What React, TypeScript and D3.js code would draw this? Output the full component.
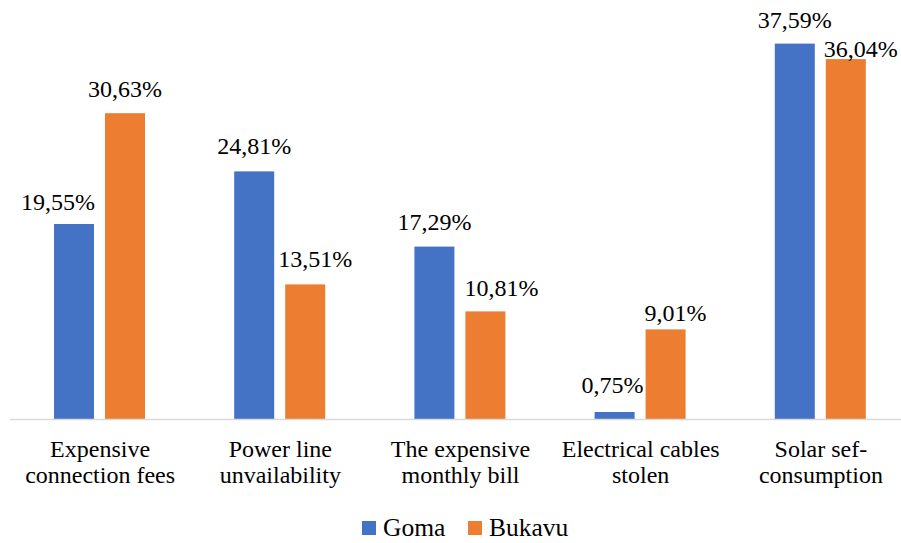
import React from "react";
import * as d3 from "d3";

const categories: string[][] = [
  ["Expensive", "connection fees"],
  ["Power line", "unvailability"],
  ["The expensive", "monthly bill"],
  ["Electrical cables", "stolen"],
  ["Solar sef-", "consumption"],
];
const seriesNames = ["Goma", "Bukavu"];
const gomaValues = [19.55, 24.81, 17.29, 0.75, 37.59];
const bukavuValues = [30.63, 13.51, 10.81, 9.01, 36.04];
const seriesColors = ["#4472C4", "#ED7D31"];

// label placement tweaks (layout, not data)
const labelDx = [
  [-16, 0, 0, -2, 0],
  [0, 10, 16, 10, 15],
];
const labelGap = [
  [14, 17, 17, 19, 16],
  [16, 17, 15, 8, 2],
];

const W = 901;
const H = 543;
const FONT =
  "'Liberation Serif', 'LiberationSerif', 'Times New Roman', Times, 'Nimbus Roman', 'Nimbus Roman No9 L', 'FreeSerif', 'Noto Serif', 'DejaVu Serif', Georgia, serif";

const fmt = (v: number) => v.toFixed(2).replace(".", ",") + "%";

export default function App() {
  const keys = categories.map((c) => c.join(" "));
  const x0 = d3.scaleBand<string>().domain(keys).range([10, 911]).padding(0);
  const x1 = d3
    .scaleBand<string>()
    .domain(seriesNames)
    .range([44, 135])
    .paddingInner(11 / 51)
    .paddingOuter(0);
  const y = d3.scaleLinear().domain([0, 40]).range([419.5, 19.5]);
  const data = [gomaValues, bukavuValues];
  const textStyle = { fontFamily: FONT };

  return (
    <div style={{ position: "absolute", left: 0, top: 0 }}>
      <svg width={W} height={H} style={{ display: "block", background: "#fff", fontFamily: FONT }}>
        <rect x={0} y={0} width={W} height={H} fill="#fff" />
        {data.map((vals, si) =>
          vals.map((v, ci) => {
            const bx = x0(keys[ci])! + x1(seriesNames[si])!;
            const by = y(v);
            return (
              <rect
                key={`b${si}-${ci}`}
                x={bx}
                y={by}
                width={x1.bandwidth()}
                height={y(0) - by}
                fill={seriesColors[si]}
              />
            );
          })
        )}
        <line x1={10} x2={W} y1={y(0)} y2={y(0)} stroke="#D9D9D9" strokeWidth={1.5} />
        {data.map((vals, si) =>
          vals.map((v, ci) => {
            const bx = x0(keys[ci])! + x1(seriesNames[si])! + x1.bandwidth() / 2;
            return (
              <text
                key={`l${si}-${ci}`}
                x={bx + labelDx[si][ci]}
                y={y(v) - labelGap[si][ci]}
                textAnchor="middle"
                style={textStyle}
                fontSize={24}
                fill="#000"
              >
                {fmt(v)}
              </text>
            );
          })
        )}
        {categories.map((lines, ci) => (
          <text
            key={`c${ci}`}
            x={x0(keys[ci])! + x0.bandwidth() / 2}
            y={457}
            textAnchor="middle"
            style={textStyle}
            fontSize={24}
            fill="#000"
          >
            {lines.map((t, li) => (
              <tspan key={li} x={x0(keys[ci])! + x0.bandwidth() / 2} y={457 + li * 25.5}>
                {t}
              </tspan>
            ))}
          </text>
        ))}
        {seriesNames.map((s, si) => {
          const lx = [362, 468][si];
          return (
            <g key={`lg${si}`}>
              <rect x={lx} y={521} width={14} height={14} fill={seriesColors[si]} />
              <text x={lx + 21} y={536} style={textStyle} fontSize={25.5} fill="#000">
                {s}
              </text>
            </g>
          );
        })}
      </svg>
    </div>
  );
}
